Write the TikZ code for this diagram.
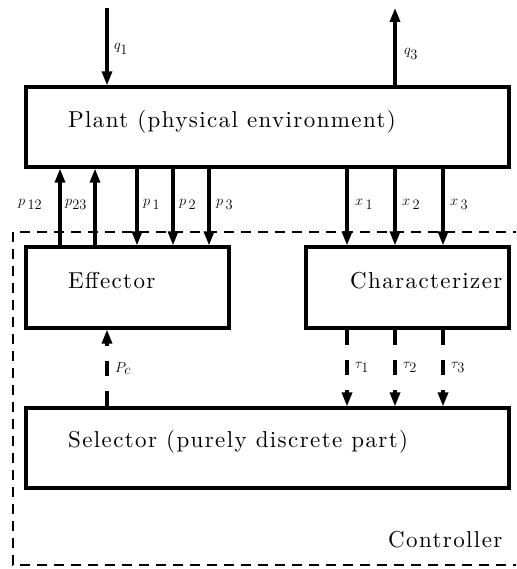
\documentclass[tikz,border=0pt]{standalone}
\usepackage{fontspec}
\newfontfamily\boxfont{lmroman10-regular.otf}[LetterSpace=6]
\usetikzlibrary{arrows.meta}
\begin{document}
\begin{tikzpicture}[x=1pt,y=-1pt,
  box/.style={draw,line width=3.2pt,inner sep=0pt},
  btxt/.style={anchor=base west,inner sep=0pt,font=\fontsize{23}{27}\boxfont},
  lbl/.style={anchor=base west,inner sep=0pt,font=\fontsize{15}{18}\selectfont},
  arr/.style={line width=3.2pt,-{Triangle[length=14pt,width=10pt]}},
  darr/.style={line width=3.2pt,dash pattern=on 15pt off 15pt,-{Triangle[length=14pt,width=10pt]}},
  ctrl/.style={line width=2.2pt,dash pattern=on 10pt off 7pt}]
\useasboundingbox (0,0) rectangle (516,569);
\clip (0,0) rectangle (516,569);
% controller region
\draw[ctrl] (13,232) -- (13,565) -- (530,565) -- (530,232) -- cycle;
% boxes
\node[box,minimum width=483pt,minimum height=80pt] (plant) at (267.5,127) {};
\node[box,minimum width=203pt,minimum height=81pt] (eff) at (127.5,287.5) {};
\node[box,minimum width=203pt,minimum height=81pt] (char) at (407.5,287.5) {};
\node[box,minimum width=483pt,minimum height=80pt] (sel) at (267.5,448) {};
% box texts
\node[btxt] (tplant) at (68,128) {Plant (physical environment)};
\node[btxt] (teff) at (68,288) {Effector};
\node[btxt] (tchar) at (350,288) {Characterizer};
\node[btxt] (tsel) at (68,447) {Selector (purely discrete part)};
\node[btxt] (tctrl) at (388,547) {Controller};
% x positions
\coordinate (cq1) at (107,8);
\coordinate (cq3) at (395,8);
\coordinate (c12) at (60,0);
\coordinate (c23) at (95,0);
\coordinate (c1) at (137,0);
\coordinate (c2) at (173,0);
\coordinate (c3) at (209,0);
\coordinate (cx1) at (347,0);
\coordinate (cx2) at (395,0);
\coordinate (cx3) at (443,0);
\coordinate (cpc) at (107,0);
% arrows
\draw[arr] (cq1) -- (cq1 |- plant.north);
\draw[arr] (cq3 |- plant.north) -- (cq3);
\draw[arr] (c12 |- eff.north) -- (c12 |- plant.south);
\draw[arr] (c23 |- eff.north) -- (c23 |- plant.south);
\draw[arr] (c1 |- plant.south) -- (c1 |- eff.north);
\draw[arr] (c2 |- plant.south) -- (c2 |- eff.north);
\draw[arr] (c3 |- plant.south) -- (c3 |- eff.north);
\draw[arr] (cx1 |- plant.south) -- (cx1 |- char.north);
\draw[arr] (cx2 |- plant.south) -- (cx2 |- char.north);
\draw[arr] (cx3 |- plant.south) -- (cx3 |- char.north);
\draw[darr] (cpc |- sel.north) -- (cpc |- eff.south);
\draw[darr] (cx1 |- char.south) -- (cx1 |- sel.north);
\draw[darr] (cx2 |- char.south) -- (cx2 |- sel.north);
\draw[darr] (cx3 |- char.south) -- (cx3 |- sel.north);
% labels
\node[lbl] (lq1) at (114,50) {$q_{\textstyle 1}$};
\node[lbl] (lq3) at (404,55) {$q_{\textstyle 3}$};
\node[lbl] (lp12) at (18,205) {$p_{\textstyle\,12}$};
\node[lbl] (lp23) at (65,205) {$p_{\textstyle 23}$};
\node[lbl] (lp1) at (143,205) {$p_{\textstyle\,1}$};
\node[lbl] (lp2) at (179,205) {$p_{\textstyle\,2}$};
\node[lbl] (lp3) at (216,205) {$p_{\textstyle\,3}$};
\node[lbl] (lx1) at (355,205) {$x_{\textstyle\,1}$};
\node[lbl] (lx2) at (402,205) {$x_{\textstyle\,2}$};
\node[lbl] (lx3) at (450,205) {$x_{\textstyle\,3}$};
\node[lbl] (lpc) at (115,372) {$P_{\textstyle c}$};
\node[lbl] (lt1) at (355,368) {$\tau_{\textstyle 1}$};
\node[lbl] (lt2) at (403,368) {$\tau_{\textstyle 2}$};
\node[lbl] (lt3) at (451,368) {$\tau_{\textstyle 3}$};
\end{tikzpicture}
\end{document}
